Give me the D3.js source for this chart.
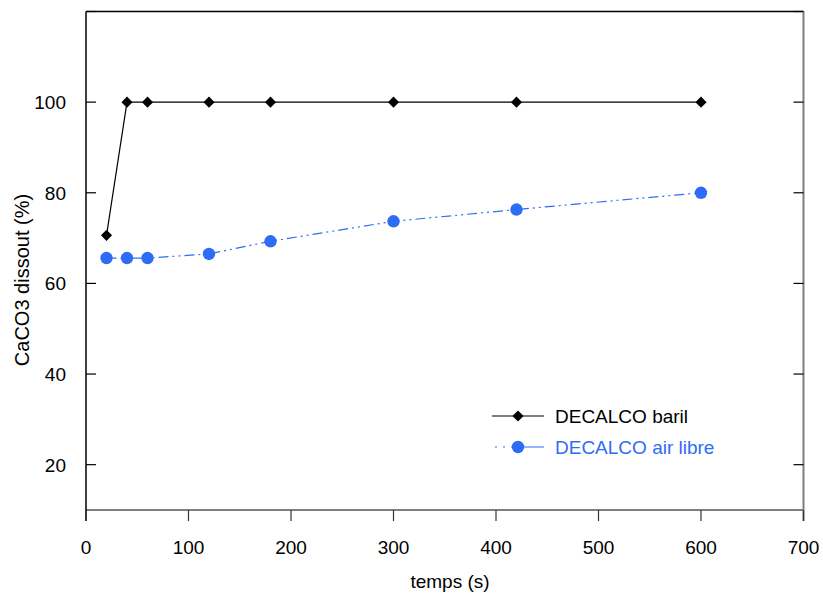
<!DOCTYPE html>
<html><head><meta charset="utf-8">
<script src="https://cdn.jsdelivr.net/npm/d3@7"></script>
<style>body{margin:0;background:#fff}svg{display:block}text{font-family:"Liberation Sans",Arial,sans-serif}</style>
</head><body>
<script>
const times = [20, 40, 60, 120, 180, 300, 420, 600];
const baril = [70.6, 100, 100, 100, 100, 100, 100, 100];
const airLibre = [65.6, 65.6, 65.6, 66.5, 69.3, 73.7, 76.3, 80];
const xTicks = [0, 100, 200, 300, 400, 500, 600, 700];
const yTicks = [20, 40, 60, 80, 100, 120];
const yLabels = [20, 40, 60, 80, 100];
const seriesNames = ["DECALCO baril", "DECALCO air libre"];

const W = 823, H = 599;
const m = {l: 86, r: 803.5, t: 11.5, b: 510};
const blue = "#2f6cf5", gray = "#7f7f7f";
const FS = 19;
const svg = d3.select("body").append("svg").attr("width", W).attr("height", H);
const x = d3.scaleLinear().domain([0, 700]).range([m.l, m.r]);
const y = d3.scaleLinear().domain([10, 120]).range([m.b, m.t]);

// frame
svg.append("line").attr("x1", m.l).attr("x2", m.r).attr("y1", m.t).attr("y2", m.t).attr("stroke", "#000").attr("stroke-width", 1.5);
svg.append("line").attr("x1", m.r).attr("x2", m.r).attr("y1", m.t).attr("y2", m.b + 11).attr("stroke", gray).attr("stroke-width", 2);
svg.append("line").attr("x1", m.l).attr("x2", m.r).attr("y1", m.b).attr("y2", m.b).attr("stroke", gray).attr("stroke-width", 2);
svg.append("line").attr("x1", m.l).attr("x2", m.l).attr("y1", m.t).attr("y2", m.b + 11).attr("stroke", "#000").attr("stroke-width", 1.5);

// y ticks (inward, both sides)
const gy = svg.append("g");
gy.selectAll(".tl").data(yTicks).join("line").attr("x1", m.l).attr("x2", m.l + 10)
  .attr("y1", d => y(d)).attr("y2", d => y(d)).attr("stroke", "#000").attr("stroke-width", 1.2);
gy.selectAll(".tr").data(yTicks).join("line").attr("x1", m.r - 10).attr("x2", m.r)
  .attr("y1", d => y(d)).attr("y2", d => y(d)).attr("stroke", "#000").attr("stroke-width", 1.2);
gy.selectAll("text").data(yLabels).join("text").attr("x", 66).attr("y", d => y(d))
  .attr("dy", "0.36em").attr("text-anchor", "end").attr("font-size", FS).text(d => d);

// x ticks (outward)
const gx = svg.append("g");
gx.selectAll("line").data(xTicks).join("line").attr("x1", d => x(d)).attr("x2", d => x(d))
  .attr("y1", m.b).attr("y2", m.b + 11).attr("stroke", "#333").attr("stroke-width", 1.2);
gx.selectAll("text").data(xTicks).join("text").attr("x", d => x(d)).attr("y", 554)
  .attr("text-anchor", "middle").attr("font-size", FS).text(d => d);

// axis titles
svg.append("text").attr("x", 450).attr("y", 588).attr("text-anchor", "middle").attr("font-size", FS).text("temps (s)");
svg.append("text").attr("transform", "translate(29,280) rotate(-90)").attr("text-anchor", "middle").attr("font-size", 20).text("CaCO3 dissout (%)");

const line = d3.line().x(d => x(d[0])).y(d => y(d[1]));
const d1 = times.map((t, i) => [t, baril[i]]);
const d2 = times.map((t, i) => [t, airLibre[i]]);
const diamond = d3.symbol().type(d3.symbolSquare).size(62);

svg.append("path").attr("d", line(d2)).attr("fill", "none").attr("stroke", blue).attr("stroke-width", 1.2)
  .attr("stroke-dasharray", "10,4,2,4,2,4");
svg.selectAll(".c").data(d2).join("circle").attr("cx", d => x(d[0])).attr("cy", d => y(d[1])).attr("r", 6.2).attr("fill", blue);

svg.append("path").attr("d", line(d1)).attr("fill", "none").attr("stroke", "#000").attr("stroke-width", 1.2);
svg.selectAll(".d").data(d1).join("path").attr("transform", d => `translate(${x(d[0])},${y(d[1])}) rotate(45)`).attr("d", diamond).attr("fill", "#000");

// legend
const lg = svg.append("g");
lg.append("line").attr("x1", 492).attr("x2", 544).attr("y1", 416).attr("y2", 416).attr("stroke", "#000").attr("stroke-width", 1.2);
lg.append("path").attr("transform", "translate(518,416) rotate(45)").attr("d", diamond).attr("fill", "#000");
lg.append("text").attr("x", 555).attr("y", 416).attr("dy", "0.36em").attr("font-size", FS).text(seriesNames[0]);
lg.append("line").attr("x1", 495).attr("x2", 544).attr("y1", 447).attr("y2", 447).attr("stroke", blue).attr("stroke-width", 1.2)
  .attr("stroke-dasharray", "2,6,2,6,2,6,30");
lg.append("circle").attr("cx", 518).attr("cy", 447).attr("r", 6.2).attr("fill", blue);
lg.append("text").attr("x", 555).attr("y", 447).attr("dy", "0.36em").attr("font-size", FS).attr("fill", blue).text(seriesNames[1]);
</script>
</body></html>
